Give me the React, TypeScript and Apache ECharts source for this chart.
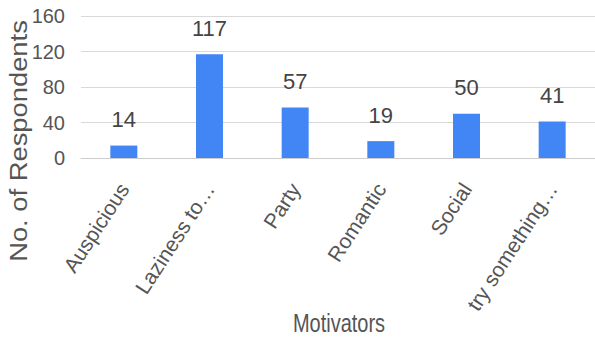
import React, { useEffect, useRef } from "react";
import * as echarts from "echarts";

const categories = ["Auspicious", "Laziness to…", "Party", "Romantic", "Social", "try something…"];
const respondents = [14, 117, 57, 19, 50, 41];
const yMin = 0;
const yMax = 160;
const yInterval = 40;
const xTitle = "Motivators";
const yTitle = "No. of Respondents";

const FONT = "'Liberation Sans', Arial, sans-serif";

export default function App() {
  const ref = useRef<HTMLDivElement>(null);
  useEffect(() => {
    if (!ref.current) return;
    const chart = echarts.init(ref.current, null, { renderer: "svg" });
    chart.setOption({
      animation: false,
      backgroundColor: "#ffffff",
      grid: { left: 81, top: 16, width: 516, height: 142, containLabel: false },
      xAxis: {
        type: "category",
        data: categories,
        axisLine: { show: true, lineStyle: { color: "#cccccc", width: 1 } },
        axisTick: { show: false },
        axisLabel: {
          rotate: 57,
          interval: 0,
          margin: 27,
          fontSize: 21,
          color: "#555555",
          fontFamily: FONT,
        },
      },
      yAxis: {
        type: "value",
        min: yMin,
        max: yMax,
        interval: yInterval,
        axisLine: { show: false },
        axisTick: { show: false },
        splitLine: { lineStyle: { color: "#d9d9d9", width: 1 } },
        axisLabel: { fontSize: 20, color: "#555555", margin: 16, fontFamily: FONT },
      },
      graphic: [
        {
          type: "text",
          x: 19,
          y: 141,
          rotation: Math.PI / 2,
          scaleX: 1.14,
          style: {
            text: yTitle,
            fontSize: 24,
            fontFamily: FONT,
            fill: "#555555",
            align: "center",
            verticalAlign: "middle",
          },
        },
        {
          type: "text",
          x: 339,
          y: 324,
          scaleX: 0.8,
          style: {
            text: xTitle,
            fontSize: 25,
            fontFamily: FONT,
            fill: "#555555",
            align: "center",
            verticalAlign: "middle",
          },
        },
      ],
      series: [
        {
          type: "bar",
          data: respondents,
          barWidth: 27,
          itemStyle: { color: "#4285F4" },
          label: {
            show: true,
            position: "top",
            distance: 15,
            fontSize: 22,
            color: "#444444",
            fontFamily: FONT,
          },
        },
      ],
    });
    return () => chart.dispose();
  }, []);
  return (
    <div
      ref={ref}
      style={{ position: "fixed", left: 0, top: 0, width: 595, height: 340 }}
    />
  );
}
